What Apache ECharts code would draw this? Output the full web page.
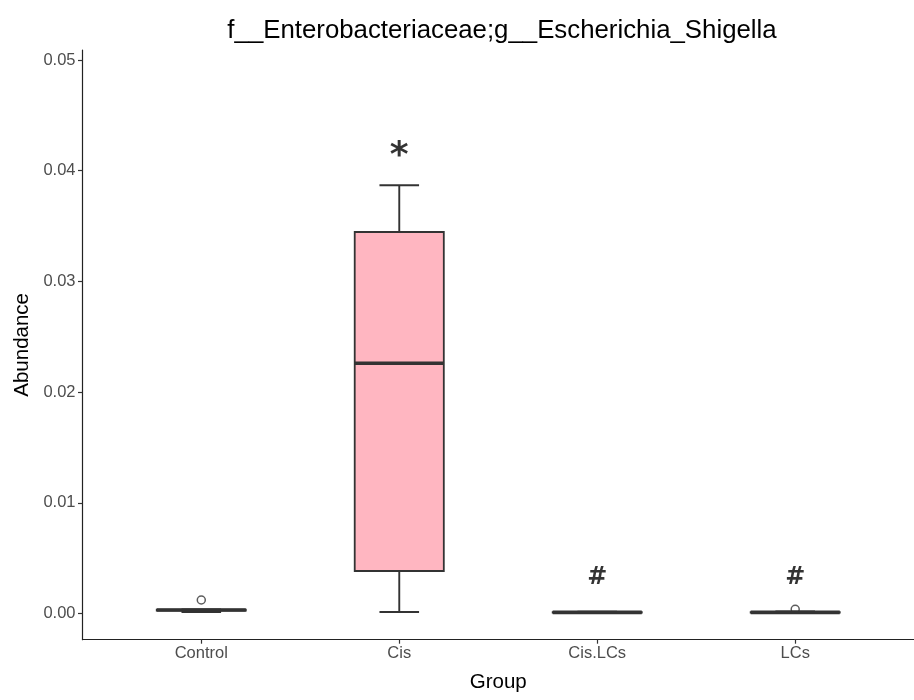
<!DOCTYPE html>
<html>
<head>
<meta charset="utf-8">
<title>f__Enterobacteriaceae;g__Escherichia_Shigella</title>
<script src="https://cdn.jsdelivr.net/npm/echarts@6/dist/echarts.min.js"></script>
<style>
  html, body { margin: 0; padding: 0; background: #fff; }
  #chart { width: 914px; height: 700px; }
</style>
</head>
<body>
<div id="chart"></div>
<script>
// Groups on the x axis
const groups = ['Control', 'Cis', 'Cis.LCs', 'LCs'];

// Box statistics per group: [lower whisker, Q1, median, Q3, upper whisker]
const lowerWhisker = [0.00013, 0.00013, 0.00004, 0.00003];
const q1           = [0.00027, 0.00384, 0.00008, 0.00007];
const median       = [0.00031, 0.02260, 0.00010, 0.00010];
const q3           = [0.00035, 0.03446, 0.00012, 0.00013];
const upperWhisker = [0.00037, 0.03868, 0.00016, 0.00018];

// Outlying samples: [group index (1-based), abundance]
const outlierGroup = [1, 4];
const outlierValue = [0.00122, 0.00038];

// Significance markers above groups
const markGroup = [2, 3, 4];
const markText  = ['*', '#', '#'];
const markY     = [0.0421, 0.0034, 0.0034];

// Y axis tick values
const yTicks = [0, 0.01, 0.02, 0.03, 0.04, 0.05];

const boxData = groups.map((g, i) => [i + 1, lowerWhisker[i], q1[i], median[i], q3[i], upperWhisker[i]]);
const outlierData = outlierGroup.map((g, i) => [g, outlierValue[i]]);

// the asterisk glyph sits high in its em box, so it is drawn larger and nudged down
const markStyle = {
  '*': { fontSize: 36, fontWeight: 'bold', offset: [0, 9] },
  '#': { fontSize: 24, fontWeight: 'bold', offset: [0, 1.5] }
};
const markData = markGroup.map((g, i) => ({
  value: [g, markY[i]],
  label: Object.assign({ formatter: markText[i] }, markStyle[markText[i]])
}));

const BOX_W = 0.45, CAP_W = 0.2;
const LINE = '#333333';

function renderBox(params, api) {
  const x = api.value(0);
  const lo = api.coord([x, api.value(1)]);
  const b1 = api.coord([x, api.value(2)]);
  const md = api.coord([x, api.value(3)]);
  const b3 = api.coord([x, api.value(4)]);
  const hi = api.coord([x, api.value(5)]);
  const bw = api.size([BOX_W, 0])[0];
  const cw = api.size([CAP_W, 0])[0];
  const cx = lo[0];
  const lineStyle = { stroke: LINE, lineWidth: 1.9, fill: null };
  return {
    type: 'group',
    children: [
      { type: 'line', shape: { x1: cx, y1: b3[1], x2: cx, y2: hi[1] }, style: lineStyle },
      { type: 'line', shape: { x1: cx, y1: b1[1], x2: cx, y2: lo[1] }, style: lineStyle },
      { type: 'line', shape: { x1: cx - cw / 2, y1: hi[1], x2: cx + cw / 2, y2: hi[1] }, style: lineStyle },
      { type: 'line', shape: { x1: cx - cw / 2, y1: lo[1], x2: cx + cw / 2, y2: lo[1] }, style: lineStyle },
      { type: 'rect', shape: { x: cx - bw / 2, y: b3[1], width: bw, height: b1[1] - b3[1] },
        style: { fill: '#FFB6C1', stroke: LINE, lineWidth: 1.8 } },
      { type: 'line', shape: { x1: cx - bw / 2, y1: md[1], x2: cx + bw / 2, y2: md[1] },
        style: { stroke: LINE, lineWidth: 3.6 } }
    ]
  };
}

const chart = echarts.init(document.getElementById('chart'), null, { renderer: 'canvas' });
chart.setOption({
  animation: false,
  backgroundColor: '#ffffff',
  title: {
    text: 'f__Enterobacteriaceae;g__Escherichia_Shigella',
    left: 502, top: 18, padding: 0, textAlign: 'center',
    textStyle: { fontFamily: 'Liberation Sans', fontSize: 25.8, fontWeight: 'normal', color: '#000' }
  },
  grid: { left: 82.5, top: 50, width: 839.5, bottom: 60.3, containLabel: false },
  xAxis: {
    type: 'value', min: 0.4, max: 4.6,
    name: 'Group', nameLocation: 'middle', nameGap: 32,
    nameTextStyle: { fontFamily: 'Liberation Sans', fontSize: 20.5, color: '#000' },
    axisLine: { show: true, onZero: false, lineStyle: { color: '#222', width: 1.2 } },
    axisTick: { show: true, length: 4, customValues: [1, 2, 3, 4], lineStyle: { color: '#333', width: 1.2 } },
    axisLabel: {
      customValues: [1, 2, 3, 4], margin: 5,
      formatter: v => groups[Math.round(v) - 1],
      fontFamily: 'Liberation Sans', fontSize: 16.5, color: '#4d4d4d'
    },
    splitLine: { show: false }
  },
  yAxis: {
    type: 'value', min: -0.002367, max: 0.0509,
    name: 'Abundance', nameLocation: 'middle', nameGap: 50,
    nameTextStyle: { fontFamily: 'Liberation Sans', fontSize: 20.5, color: '#000' },
    axisLine: { show: true, onZero: false, lineStyle: { color: '#222', width: 1.2 } },
    axisTick: { show: true, length: 4.5, customValues: yTicks, lineStyle: { color: '#333', width: 1.2 } },
    axisLabel: {
      customValues: yTicks, margin: 7,
      formatter: v => v.toFixed(2),
      fontFamily: 'Liberation Sans', fontSize: 16.5, color: '#4d4d4d'
    },
    splitLine: { show: false }
  },
  series: [
    {
      type: 'scatter', z: 1, data: outlierData,
      symbol: 'circle', symbolSize: 8,
      itemStyle: { color: 'rgba(255,255,255,0)', borderColor: LINE, borderWidth: 1.5 }
    },
    {
      type: 'custom', z: 2, data: boxData, renderItem: renderBox,
      encode: { x: 0, y: [1, 2, 3, 4, 5] }
    },
    {
      type: 'scatter', z: 3, data: markData, symbolSize: 0,
      label: {
        show: true, position: 'inside',
        fontFamily: 'DejaVu Sans', color: '#000'
      }
    }
  ]
});
</script>
</body>
</html>
